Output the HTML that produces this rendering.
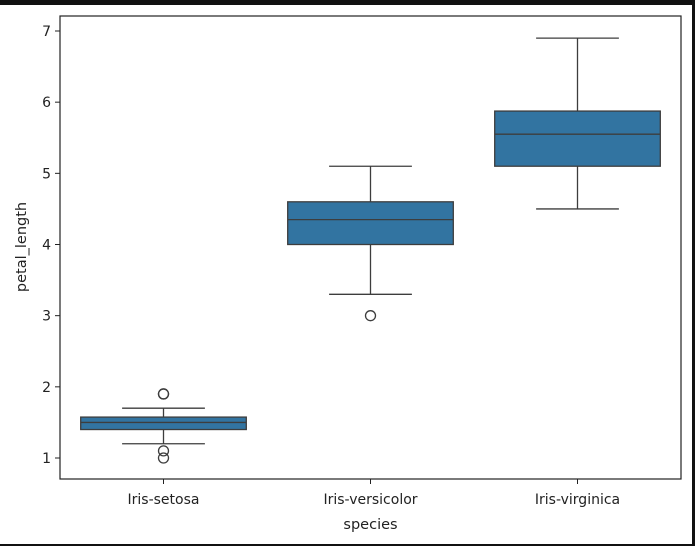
<!DOCTYPE html>
<html><head><meta charset="utf-8"><style>
html,body{margin:0;padding:0;background:#fff}
svg{display:block;font-family:"DejaVu Sans","Liberation Sans",sans-serif}
</style></head><body>
<svg id="chart" width="695" height="546">
<rect x="0" y="0" width="695" height="5" fill="#111"/>
<rect x="692" y="0" width="3" height="546" fill="#111"/>
<rect x="0" y="544" width="695" height="2" fill="#111"/>
<g id="plot"></g>
</svg>
<script>
const categories=["Iris-setosa","Iris-versicolor","Iris-virginica"];
const q1=[1.4,4.0,5.1];
const medians=[1.5,4.35,5.55];
const q3=[1.575,4.6,5.875];
const whiskLo=[1.2,3.3,4.5];
const whiskHi=[1.7,5.1,6.9];
const outliers=[[1.9,1.9,1.1,1.0],[3.0],[]];
const yTicks=[1,2,3,4,5,6,7];
const NS="http://www.w3.org/2000/svg";
const L=60,R=681,T=16,B=479;
const y=v=>458-(v-1)*(458-31)/6;
const bw=(R-L)/categories.length;
const x=i=>L+bw*(i+0.5);
const g=document.getElementById('plot');
function mk(t,a){const e=document.createElementNS(NS,t);for(const k in a)e.setAttribute(k,a[k]);g.appendChild(e);return e;}
const ec="#3d3d3d";
yTicks.forEach(v=>{
 const l=mk('line',{x1:L-5,x2:L,y1:y(v),y2:y(v),stroke:'#222','stroke-width':1});
 
 
 const t=mk('text',{x:L-9,y:y(v)+5,'text-anchor':'end','font-size':14,fill:'#222'});
 t.textContent=v;
 
 
});
categories.forEach((c,i)=>{
 const cx=x(i),w=bw*0.8;
 const wl=mk('line',{x1:cx,x2:cx,y1:y(whiskLo[i]),y2:y(q1[i]),stroke:ec,'stroke-width':1.3});
 
 
 const wh=mk('line',{x1:cx,x2:cx,y1:y(whiskHi[i]),y2:y(q3[i]),stroke:ec,'stroke-width':1.3});
 
 
 [whiskLo[i],whiskHi[i]].forEach(v=>{
  const cap=mk('line',{x1:cx-w/4,x2:cx+w/4,y1:y(v),y2:y(v),stroke:ec,'stroke-width':1.3});
  
  
 });
 const b=mk('rect',{x:cx-w/2,y:y(q3[i]),width:w,height:y(q1[i])-y(q3[i]),fill:'#3274a1',stroke:ec,'stroke-width':1.3});
 
 
 const m=mk('line',{x1:cx-w/2,x2:cx+w/2,y1:y(medians[i]),y2:y(medians[i]),stroke:ec,'stroke-width':1.3});
 
 
 outliers[i].forEach(v=>{
  const o=mk('circle',{cx:cx,cy:y(v),r:5,fill:'none',stroke:ec,'stroke-width':1.3});
  
  
 });
 const tk=mk('line',{x1:cx,x2:cx,y1:B,y2:B+5,stroke:'#222','stroke-width':1});
 
 
 const t=mk('text',{x:cx,y:B+25,'text-anchor':'middle','font-size':14,fill:'#222'});
 t.textContent=c;
 
 
});
const fr=mk('rect',{x:L,y:T,width:R-L,height:B-T,fill:'none',stroke:'#222','stroke-width':1.2});


const xt=mk('text',{x:(L+R)/2,y:529,'text-anchor':'middle','font-size':14.5,fill:'#222'});
xt.textContent='species';


const yt=mk('text',{x:0,y:0,'text-anchor':'middle','font-size':14.5,fill:'#222',transform:'translate(26,247) rotate(-90)'});
yt.textContent='petal_length';


</script>
</body></html>
